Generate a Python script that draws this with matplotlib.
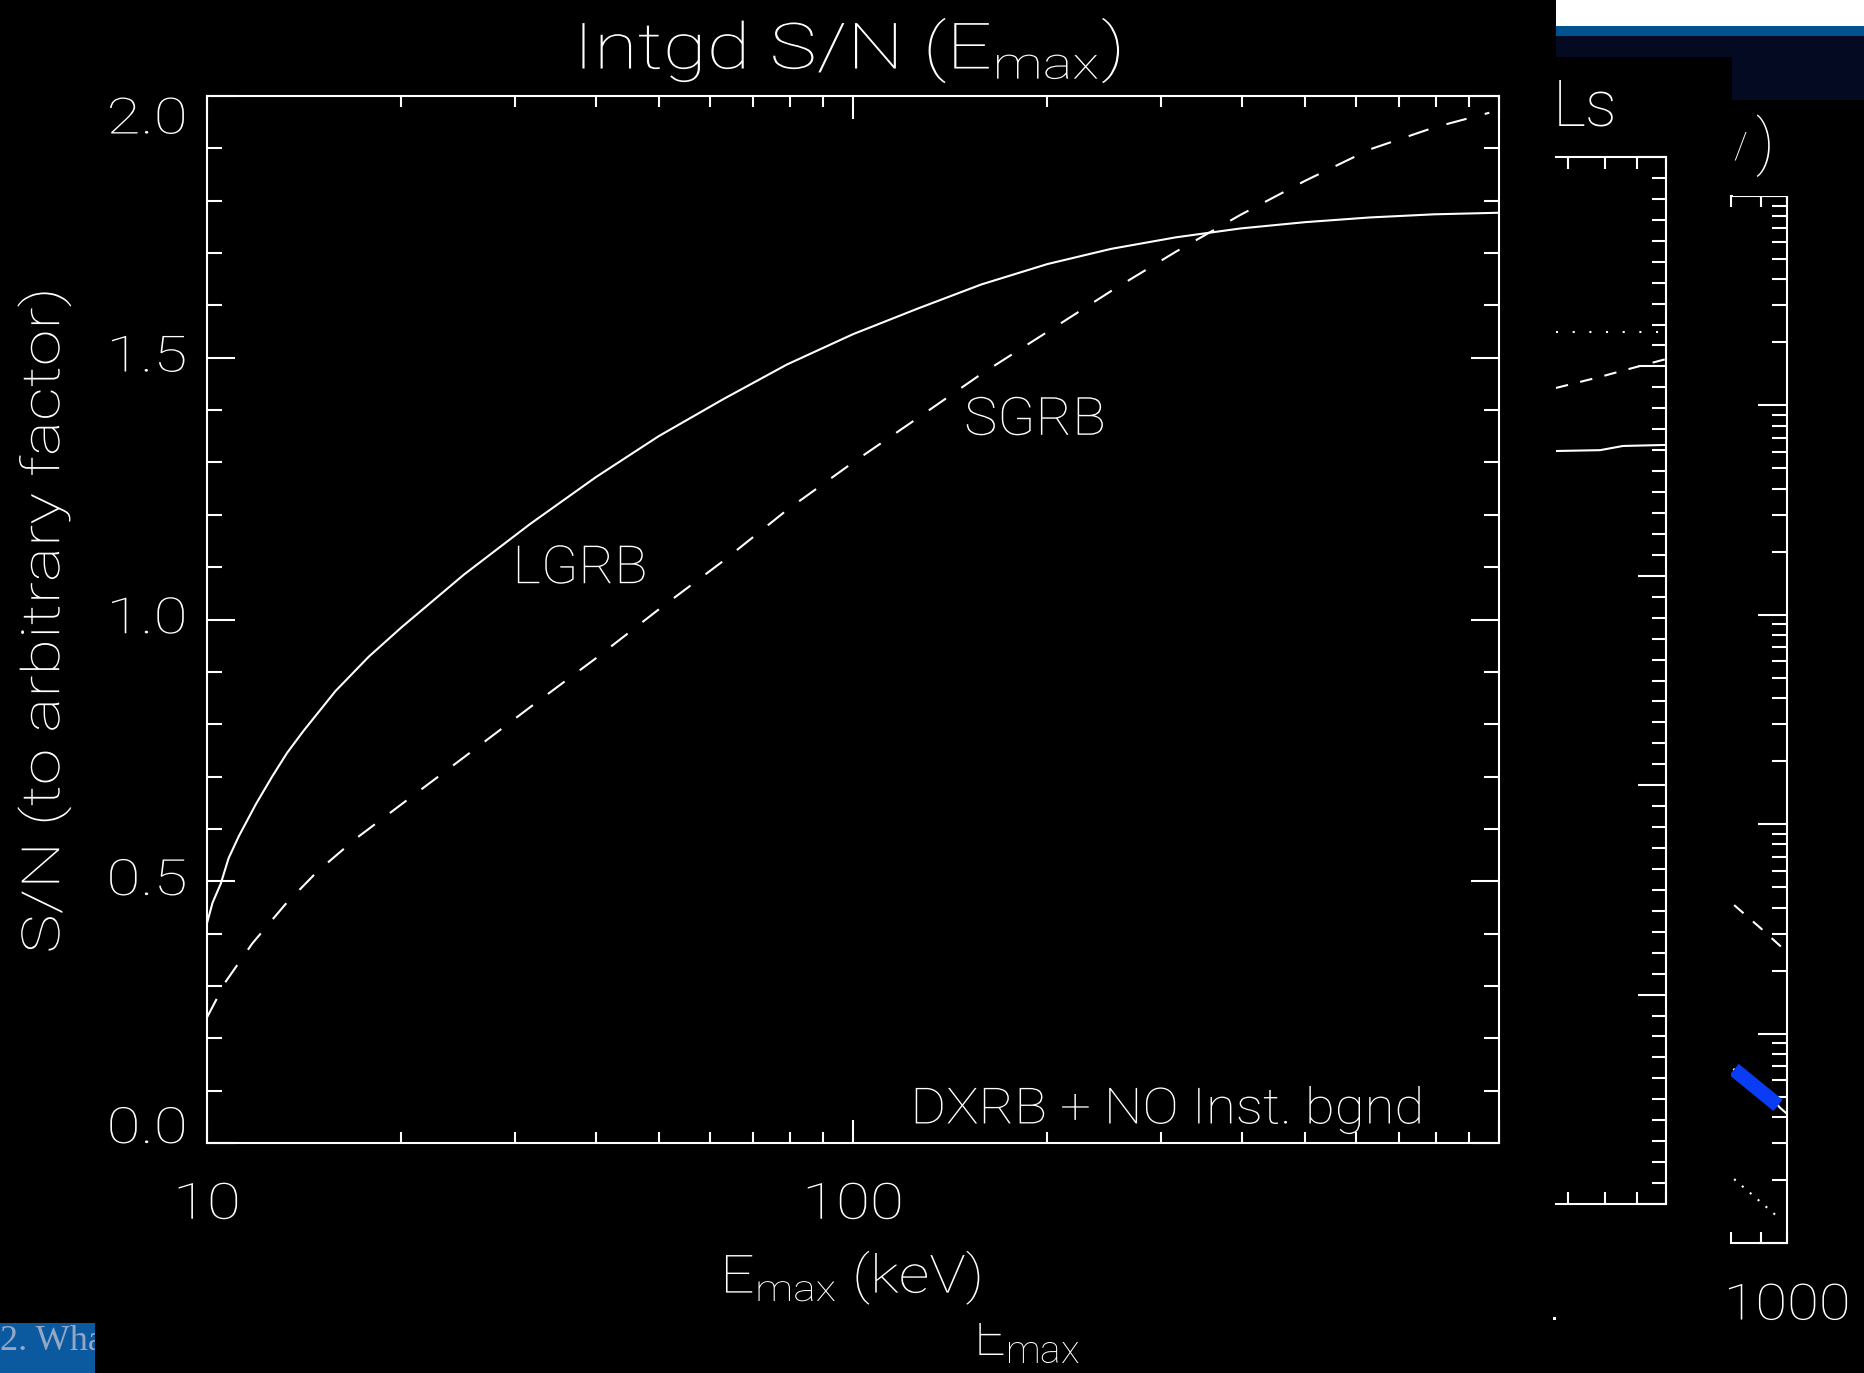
import numpy as np
import matplotlib
matplotlib.use("Agg")
import matplotlib.pyplot as plt
from matplotlib.patches import Rectangle
from matplotlib.patheffects import AbstractPathEffect
from matplotlib.transforms import Affine2D, blended_transform_factory
from matplotlib.ticker import (FixedLocator, LogLocator, MultipleLocator,
                               NullFormatter)

# integrated S/N versus upper energy bound, long and short bursts
lgrb_e = [10, 10.2, 10.5, 10.8, 11.2, 11.9, 12.6, 13.3, 14.1, 15.8, 17.8,
          20, 25, 31.6, 40, 50, 63, 79, 100, 126, 158, 200, 251, 316, 398,
          501, 631, 794, 1000]
lgrb_sn = [0.42, 0.459, 0.495, 0.544, 0.586, 0.647, 0.699, 0.745, 0.787,
           0.863, 0.929, 0.985, 1.086, 1.182, 1.272, 1.350, 1.421, 1.487,
           1.545, 1.594, 1.640, 1.679, 1.708, 1.730, 1.747, 1.759, 1.768,
           1.774, 1.777]

sgrb_e = [10, 10.7, 11.75, 13.2, 14.8, 17, 20, 25, 31.6, 40, 50, 63, 79,
          100, 126, 158, 200, 251, 316, 398, 501, 631, 794, 966]
sgrb_sn = [0.24, 0.309, 0.381, 0.455, 0.518, 0.5815, 0.647, 0.737, 0.832,
           0.926, 1.019, 1.112, 1.209, 1.300, 1.385, 1.469, 1.5495, 1.6275,
           1.7025, 1.773, 1.838, 1.898, 1.940, 1.968]

y_ticks = [0.0, 0.5, 1.0, 1.5, 2.0]
x_ticks = [10, 100, 1000]
x_tick_labels = ["10", "100"]

# neighbouring panel (instrumental background curves), right-hand edge only
mid_e = [670, 787, 855, 1000]
mid_solid = [3.596, 3.600, 3.620, 3.625]
mid_dashed = [3.897, 3.950, 3.980, 4.035]
mid_dot_e = [670, 1000]
mid_dotted = [4.162, 4.162]

# far panel (log scale), right-hand edge only
far_dash_e = [810, 900, 1000]
far_dash = [4.11e-3, 3.19e-3, 2.45e-3]
far_solid_e = [810, 965, 973, 996]
far_solid = [6.74e-4, 4.54e-4, 4.42e-4, 4.18e-4]
far_band_e = [810, 965]
far_band = [6.74e-4, 4.54e-4]
far_dot_e = [810, 977]
far_dot = [2.02e-4, 1.29e-4]

plt.rcParams["font.family"] = ["Roboto", "DejaVu Sans"]
plt.rcParams["font.weight"] = "light"
plt.rcParams["mathtext.fontset"] = "custom"
plt.rcParams["mathtext.rm"] = "Roboto:light"
plt.rcParams["mathtext.it"] = "Roboto:light"

W, H = 1865, 1373
PT = 0.72  # points per pixel at 100 dpi
LW = 1.5
fig = plt.figure(figsize=(W / 100, H / 100), dpi=100, facecolor="black")


class Stretch(AbstractPathEffect):
    """Widen a text run along its writing direction, about its centre."""

    def __init__(self, factor, vertical=False):
        super().__init__()
        self.factor = factor
        self.vertical = vertical

    def draw_path(self, renderer, gc, tpath, affine, rgbFace=None):
        bb = tpath.get_extents(affine)
        if self.vertical:
            c = 0.5 * (bb.y0 + bb.y1)
            extra = Affine2D().translate(0, -c).scale(1, self.factor).translate(0, c)
        else:
            c = 0.5 * (bb.x0 + bb.x1)
            extra = Affine2D().translate(-c, 0).scale(self.factor, 1).translate(c, 0)
        renderer.draw_path(gc, tpath, affine + extra, rgbFace)


def px_axes(x0, y0, x1, y1):
    a = fig.add_axes([x0 / W, 1 - y1 / H, (x1 - x0) / W, (y1 - y0) / H])
    a.set_facecolor("black")
    return a


def px_rect(x0, y0, x1, y1, color):
    fig.add_artist(Rectangle((x0 / W, 1 - y1 / H), (x1 - x0) / W,
                             (y1 - y0) / H, transform=fig.transFigure,
                             facecolor=color, lw=0, zorder=0))


def blank(a):
    a.set_xticks([])
    a.set_yticks([])
    for s in a.spines.values():
        s.set_visible(False)


# ---- main plot ----
ax = px_axes(207, 96, 1499, 1143)
ax.plot(lgrb_e, lgrb_sn, color="white", lw=LW)
ax.plot(sgrb_e, sgrb_sn, color="white", lw=LW, linestyle=(0, (10, 9)))
ax.set_xscale("log")
ax.set_xlim(10, 1000)
ax.set_ylim(0, 2)
ax.set_xticks(x_ticks)
ax.xaxis.set_minor_locator(LogLocator(subs=range(2, 10)))
ax.xaxis.set_minor_formatter(NullFormatter())
ax.set_yticks(y_ticks)
ax.yaxis.set_minor_locator(MultipleLocator(0.1))
for s in ax.spines.values():
    s.set_color("white")
    s.set_linewidth(LW)
ax.tick_params(axis="both", which="both", direction="in", color="white",
               width=LW, labelbottom=False, labelleft=False)
ax.tick_params(axis="x", which="major", length=23 * PT, top=True)
ax.tick_params(axis="x", which="minor", length=11 * PT, top=True)
ax.tick_params(axis="y", which="major", length=28 * PT, right=True)
ax.tick_params(axis="y", which="minor", length=15 * PT, right=True)

# tick labels in the wide plotter lettering
num_fx = [Stretch(1.24)]
y_lab_tr = blended_transform_factory(ax.transAxes, ax.transData)
for v in y_ticks:
    va = "top" if v == y_ticks[-1] else ("baseline" if v == y_ticks[0] else "center")
    ax.text(-0.0464, v, f"{v:.1f}", transform=y_lab_tr, color="white",
            fontsize=36, ha="center", va=va, path_effects=num_fx)
x_lab_tr = blended_transform_factory(ax.transData, ax.transAxes)
for v, s in zip(x_ticks, x_tick_labels):
    ax.text(v, -0.0592, s, transform=x_lab_tr, color="white", fontsize=36,
            ha="center", va="center", path_effects=num_fx)

ax.text(37.8, 1.0975, "LGRB", color="white", fontsize=38,
        ha="center", va="center", path_effects=[Stretch(1.04)])
ax.text(191.3, 1.381, "SGRB", color="white", fontsize=38,
        ha="center", va="center", path_effects=[Stretch(1.06)])
ax.text(306.7, 0.0636, "DXRB + NO Inst. bgnd", color="white", fontsize=36,
        ha="center", va="center", path_effects=[Stretch(1.09)])

fig.text(848 / W, 1 - 69 / H, r"Intgd S/N ($\rm E_{max}$)", color="white",
         fontsize=46, ha="center", va="baseline",
         path_effects=[Stretch(1.25)])
fig.text(851 / W, 1 - 1293 / H, r"$\rm E_{max}$ (keV)", color="white",
         fontsize=38, ha="center", va="baseline",
         path_effects=[Stretch(1.15)])
fig.text(44 / W, 1 - 621 / H, "S/N (to arbitrary factor)", color="white",
         fontsize=38, rotation=90, ha="center", va="center",
         path_effects=[Stretch(1.26, vertical=True)])

# ---- slide strips at the top right ----
px_rect(1556, 0, 1865, 26, "white")
px_rect(1556, 26, 1865, 36, "#00538f")
px_rect(1556, 36, 1865, 57, "#030a22")
px_rect(1732, 57, 1865, 100, "#030a22")

# ---- neighbouring panel ----
ax2 = px_axes(1556, 157, 1666, 1204)
ax2.plot(mid_e, mid_solid, color="white", lw=LW)
ax2.plot(mid_e, mid_dashed, color="white", lw=LW, linestyle=(0, (6, 6)))
ax2.plot(mid_dot_e, mid_dotted, color="white", lw=LW, linestyle=(0, (1, 7)))
ax2.set_xscale("log")
ax2.set_xlim(10 ** (3 - 110 / 633), 1000)
ax2.set_ylim(0, 5)
ax2.xaxis.set_major_locator(FixedLocator([1000]))
ax2.xaxis.set_minor_locator(FixedLocator([700, 800, 900]))
ax2.xaxis.set_minor_formatter(NullFormatter())
ax2.yaxis.set_major_locator(MultipleLocator(1))
ax2.yaxis.set_minor_locator(MultipleLocator(0.1))
ax2.spines["left"].set_visible(False)
for k in ("top", "right", "bottom"):
    ax2.spines[k].set_color("white")
    ax2.spines[k].set_linewidth(LW)
ax2.tick_params(which="both", direction="in", color="white", width=LW,
                labelbottom=False, labelleft=False, left=False, right=True,
                top=True, bottom=True)
ax2.tick_params(axis="x", which="both", length=12 * PT)
ax2.tick_params(axis="y", which="major", length=28 * PT)
ax2.tick_params(axis="y", which="minor", length=14 * PT)
fig.text(1553 / W, 1 - 126 / H, "Ls", color="white", fontsize=46,
         va="baseline")

# ---- far panel ----
ax3 = px_axes(1731, 196, 1787, 1243)
ax3.plot(far_dash_e, far_dash, color="white", lw=LW, linestyle=(0, (6, 6)))
ax3.plot(far_solid_e, far_solid, color="white", lw=LW)
ax3.plot(far_band_e, far_band, color="#0a3cf5", lw=10.5,
         solid_capstyle="butt")
ax3.plot(far_dot_e, far_dot, color="white", lw=LW, linestyle=(0, (1, 4)))
ax3.set_xscale("log")
ax3.set_yscale("log")
ax3.set_xlim(800, 1000)
ax3.set_ylim(1e-4, 10)
ax3.xaxis.set_major_locator(FixedLocator([1000]))
ax3.xaxis.set_minor_locator(FixedLocator([800, 900]))
ax3.xaxis.set_minor_formatter(NullFormatter())
ax3.yaxis.set_major_locator(LogLocator(base=10))
ax3.yaxis.set_minor_locator(LogLocator(base=10, subs=range(2, 10)))
ax3.yaxis.set_minor_formatter(NullFormatter())
ax3.spines["left"].set_visible(False)
for k in ("top", "right", "bottom"):
    ax3.spines[k].set_color("white")
    ax3.spines[k].set_linewidth(LW)
ax3.tick_params(which="both", direction="in", color="white", width=LW,
                labelbottom=False, labelleft=False, left=False, right=True,
                top=True, bottom=True)
ax3.tick_params(axis="x", which="both", length=11 * PT)
ax3.tick_params(axis="y", which="major", length=29 * PT)
ax3.tick_params(axis="y", which="minor", length=15 * PT)
ax3.text(1000, -0.060, "1000", color="white", fontsize=36, ha="center",
         va="center", path_effects=[Stretch(1.16)],
         transform=blended_transform_factory(ax3.transData, ax3.transAxes))

ax6 = px_axes(1733, 100, 1865, 196)
blank(ax6)
ax6.text(1740 / W, 1 - 148 / H, "/", color="white", fontsize=26,
         ha="center", va="center", transform=fig.transFigure, clip_on=True)
ax6.text(1755 / W, 1 - 146 / H, ")", color="white", fontsize=44,
         ha="left", va="center", transform=fig.transFigure, clip_on=True)

# ---- lower strip ----
ax4 = px_axes(0, 1323, 95, 1373)
ax4.set_facecolor("#0b5aa0")
blank(ax4)
ax4.text(0.0, 0.46, "2. Wha", color="#93a8c6", fontsize=26,
         family="Liberation Serif", weight="normal", va="baseline",
         transform=ax4.transAxes, clip_on=True)

ax5 = px_axes(940, 1323, 1100, 1373)
blank(ax5)
ax5.text(973 / W, 1 - 1355 / H, r"$\rm E_{max}$", color="white", fontsize=40,
         va="baseline", transform=fig.transFigure, clip_on=True)

px_rect(1553, 1317, 1556, 1320, "white")

fig.savefig("out.png", dpi=100, facecolor="black")
